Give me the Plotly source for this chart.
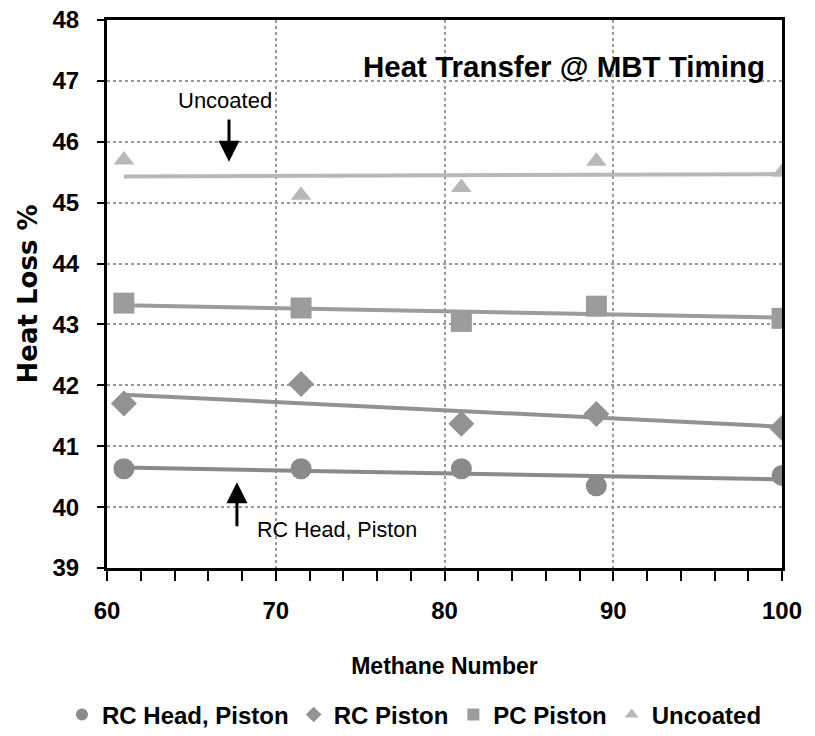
import numpy as np
import plotly.graph_objects as go

methane = [61, 71.5, 81, 89, 100]
rc_head_piston = [40.63, 40.63, 40.63, 40.35, 40.52]
rc_piston = [41.7, 42.02, 41.37, 41.53, 41.3]
pc_piston = [43.35, 43.27, 43.05, 43.3, 43.1]
uncoated = [45.7, 45.12, 45.25, 45.68, 45.5]

series = [
    ("RC Head, Piston", rc_head_piston, "circle", 21, "#8a8a8a"),
    ("RC Piston", rc_piston, "diamond", 20, "#929292"),
    ("PC Piston", pc_piston, "square", 21, "#9c9c9c"),
    ("Uncoated", uncoated, "triangle-up", 18, "#b8b8b8"),
]

font_family = "Liberation Sans, Arial, sans-serif"

fig = go.Figure()
x_arr = np.array(methane)
for name, vals, sym, size, col in series:
    k, b = np.polyfit(x_arr, np.array(vals), 1)
    xs = [min(methane), max(methane)]
    fig.add_trace(go.Scatter(
        x=xs, y=[k * v + b for v in xs], mode="lines",
        line=dict(color=col, width=4), showlegend=False, hoverinfo="skip"))
for name, vals, sym, size, col in series:
    fig.add_trace(go.Scatter(
        x=methane, y=vals, mode="markers", name=name,
        marker=dict(symbol=sym, size=size, color=col, line=dict(width=0))))

fig.update_layout(
    width=815, height=736,
    paper_bgcolor="white", plot_bgcolor="white",
    margin=dict(l=107, r=33, t=20, b=168, autoexpand=False),
    font=dict(family=font_family, size=20, color="black"),
    showlegend=True,
    legend=dict(orientation="h", x=-0.0667, xanchor="left", y=-0.268, yanchor="middle",
                font=dict(size=24, family=font_family, weight="bold"),
                itemsizing="constant", tracegroupgap=0),
    xaxis=dict(
        range=[60, 100], dtick=10, tick0=60, automargin=False,
        showline=True, linecolor="black", linewidth=3, mirror=True,
        ticks="outside", ticklen=10, tickwidth=2, tickcolor="black",
        minor=dict(dtick=2, ticks="outside", ticklen=10, tickwidth=2, tickcolor="black", showgrid=False),
        showgrid=True, gridcolor="#9a9a9a", griddash="dot", gridwidth=1.5,
        zeroline=False, ticklabelstandoff=9,
        tickfont=dict(size=24, family=font_family, weight="bold"),
        title=dict(text="Methane Number", font=dict(size=23, weight="bold"), standoff=36),
    ),
    yaxis=dict(
        range=[39, 48], dtick=1, automargin=False,
        showline=True, linecolor="black", linewidth=3, mirror=True,
        ticks="outside", ticklen=7, tickwidth=2, tickcolor="black",
        showgrid=True, gridcolor="#9a9a9a", griddash="dot", gridwidth=1.5,
        zeroline=False, ticklabelstandoff=13,
        tickfont=dict(size=24, family=font_family, weight="bold"),
        title=dict(text="Heat Loss %", font=dict(size=26, family="DejaVu Sans, sans-serif", weight="bold"), standoff=8),
    ),
)

# white label boxes covering the grid (between grid and data)
box = dict(type="rect", xref="paper", yref="paper", layer="between",
           fillcolor="white", line=dict(width=0))
fig.add_shape(x0=0.370, x1=0.995, y0=0.859, y1=0.978, **box)
fig.add_shape(x0=0.059, x1=0.281, y0=0.799, y1=0.922, **box)
fig.add_shape(x0=0.182, x1=0.499, y0=0.015, y1=0.139, **box)

fig.add_annotation(x=0.978, y=0.916, xref="paper", yref="paper", xanchor="right", yanchor="middle",
                   text="Heat Transfer @ MBT Timing", showarrow=False,
                   font=dict(size=29.5, family=font_family, weight="bold"))
fig.add_annotation(x=66.99, y=46.67, text="Uncoated", showarrow=False,
                   font=dict(size=22, family=font_family))
fig.add_annotation(x=67.23, y=45.67, ax=67.23, ay=46.39, axref="x", ayref="y",
                   text="", showarrow=True, arrowhead=2, arrowsize=1.4, arrowwidth=3, arrowcolor="black")
fig.add_annotation(x=68.77, y=39.63, text="RC Head, Piston", showarrow=False,
                   font=dict(size=21.5, family=font_family), xanchor="left")
fig.add_annotation(x=67.7, y=40.41, ax=67.7, ay=39.66, axref="x", ayref="y",
                   text="", showarrow=True, arrowhead=2, arrowsize=1.4, arrowwidth=3, arrowcolor="black")

fig.write_html("out.html", config={"displayModeBar": False},
               post_script="document.body.style.margin='0';document.documentElement.style.overflow='hidden';")
